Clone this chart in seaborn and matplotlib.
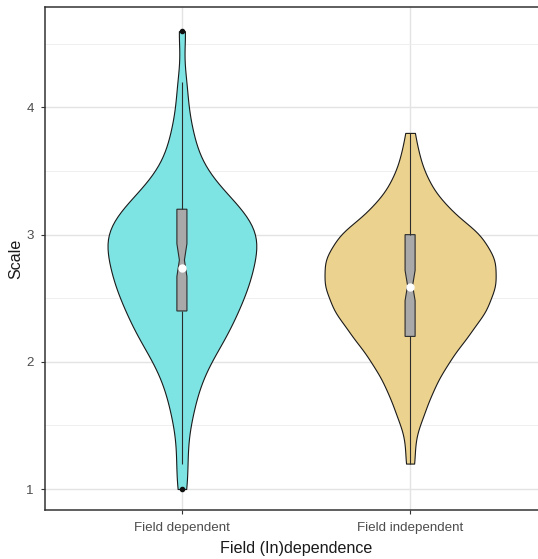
import numpy as np
import pandas as pd
import matplotlib
matplotlib.use("Agg")
import matplotlib.pyplot as plt
import seaborn as sns

# ---- data ----
groups = ["Field dependent", "Field independent"]
fd_values = [1.0, 1.2, 1.4, 1.6, 1.8, 2.0, 2.2, 2.4, 2.6, 2.8, 3.0, 3.2, 3.4, 3.6, 3.8, 4.0, 4.2, 4.4, 4.6]
fd_counts = [1, 1, 1, 2, 3, 5, 8, 10, 12, 13, 14, 11, 6, 3, 2, 1, 1, 0, 1]
fi_values = [1.2, 1.4, 1.6, 1.8, 2.0, 2.2, 2.4, 2.6, 2.8, 3.0, 3.2, 3.4, 3.6, 3.8]
fi_counts = [1, 1, 3, 5, 8, 12, 16, 18, 18, 15, 8, 4, 2, 1]
colors = ["#7EE3E3", "#ECD28F"]
y_ticks = [1, 2, 3, 4]

df = pd.concat([
    pd.DataFrame({"group": groups[0], "scale": np.repeat(fd_values, fd_counts)}),
    pd.DataFrame({"group": groups[1], "scale": np.repeat(fi_values, fi_counts)}),
], ignore_index=True)

sns.set_theme(style="white")
plt.rcParams["font.family"] = ["Liberation Sans", "DejaVu Sans"]

fig = plt.figure(figsize=(5.38, 5.59), dpi=100)
ax = fig.add_axes([45 / 538, 1 - 510 / 559, 502 / 538, 503 / 559])

sns.violinplot(data=df, x="group", y="scale", hue="group", palette=colors,
               order=groups, hue_order=groups, cut=0, inner=None, width=0.75,
               density_norm="area", common_norm=True, linewidth=0.8,
               linecolor="#1a1a1a", saturation=1, legend=False, bw_adjust=0.62,
               ax=ax, zorder=2)

sns.boxplot(data=df, x="group", y="scale", order=groups, width=0.044, notch=True,
            showcaps=False, color="#A9A9A9", linecolor="#2b2b2b", linewidth=0.8,
            saturation=1, fliersize=3,
            flierprops=dict(marker="o", markerfacecolor="#111111", markeredgecolor="#111111"),
            medianprops=dict(linewidth=0),
            showmeans=True,
            meanprops=dict(marker="o", markerfacecolor="white", markeredgecolor="white",
                           markersize=5),
            ax=ax, zorder=3)

ax.set_xlim(-0.6, 1.6)
ax.set_ylim(0.835, 4.79)
ax.set_yticks(y_ticks)
ax.set_yticks([1.5, 2.5, 3.5, 4.5], minor=True)
ax.grid(True, which="major", color="#E3E3E3", linewidth=1.0, zorder=0)
ax.grid(True, which="minor", axis="y", color="#EDEDED", linewidth=0.6, zorder=0)
ax.set_axisbelow(True)

for s in ax.spines.values():
    s.set_color("#333333")
    s.set_linewidth(1.1)
    s.set_visible(True)

ax.tick_params(axis="both", which="major", length=3, width=0.8, color="#333333",
               labelsize=9.6, labelcolor="#4D4D4D", bottom=True, left=True)
ax.tick_params(axis="x", pad=5.5)
ax.tick_params(axis="y", pad=5)
ax.tick_params(axis="both", which="minor", length=0)
ax.set_xlabel("Field (In)dependence", fontsize=11.6, color="#1a1a1a", labelpad=5)
ax.set_ylabel("Scale", fontsize=11.6, color="#1a1a1a", labelpad=2)

fig.savefig("out.png", dpi=100)
